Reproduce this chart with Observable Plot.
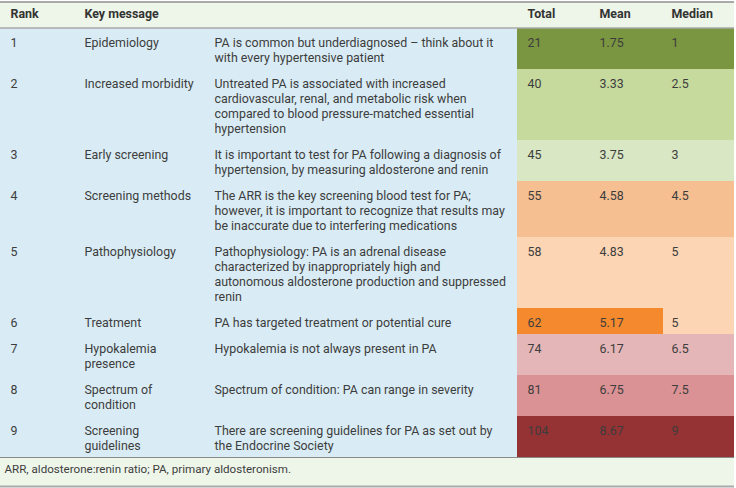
<!DOCTYPE html>
<html>
<head>
<meta charset="utf-8">
<script src="https://cdn.jsdelivr.net/npm/d3@7"></script>
<script src="https://cdn.jsdelivr.net/npm/@observablehq/plot@0.6"></script>
<style>
  html, body { margin: 0; padding: 0; background: #ffffff; }
  #chart svg { display: block; }
</style>
</head>
<body>
<div id="chart"></div>
<script>
// ---------- data ----------
const headers = ["Rank", "Key message", "", "Total", "Mean", "Median"];
const ranks = [1, 2, 3, 4, 5, 6, 7, 8, 9];
const keyMessages = [
  "Epidemiology",
  "Increased morbidity",
  "Early screening",
  "Screening methods",
  "Pathophysiology",
  "Treatment",
  "Hypokalemia\npresence",
  "Spectrum of\ncondition",
  "Screening\nguidelines"
];
const messages = [
  "PA is common but underdiagnosed \u2013 think about it\nwith every hypertensive patient",
  "Untreated PA is associated with increased\ncardiovascular, renal, and metabolic risk when\ncompared to blood pressure-matched essential\nhypertension",
  "It is important to test for PA following a diagnosis of\nhypertension, by measuring aldosterone and renin",
  "The ARR is the key screening blood test for PA;\nhowever, it is important to recognize that results may\nbe inaccurate due to interfering medications",
  "Pathophysiology: PA is an adrenal disease\ncharacterized by inappropriately high and\nautonomous aldosterone production and suppressed\nrenin",
  "PA has targeted treatment or potential cure",
  "Hypokalemia is not always present in PA",
  "Spectrum of condition: PA can range in severity",
  "There are screening guidelines for PA as set out by\nthe Endocrine Society"
];
const totals = [21, 40, 45, 55, 58, 62, 74, 81, 104];
const means = [1.75, 3.33, 3.75, 4.58, 4.83, 5.17, 6.17, 6.75, 8.67];
const medians = [1, 2.5, 3, 4.5, 5, 5, 6.5, 7.5, 9];
const footnote = "ARR, aldosterone:renin ratio; PA, primary aldosteronism.";

// ---------- styling / layout ----------
const palette = ["#7b9641", "#c6da9d", "#d9e7c4", "#f6bf92", "#fcd5b4",
                 "#f48a2d", "#e4b6b7", "#da9294", "#953233"];
const FONT = "Roboto, 'Liberation Sans', sans-serif";
const FS = 12.4;
const LH = 15;      // line height px
const PAD = 11;     // row padding px
const W = 736, H = 488;
const tableRight = 734;
const headerTop = 2, headerBottom = 28;
const textX = [10, 84, 214, 527, 599, 671];
const cellX = {colorStart: 517, meanStart: 590, medianStart: 663};

const nLines = s => s.split("\n").length;
const rows = ranks.map((r, i) => ({
  rank: r,
  key: keyMessages[i],
  msg: messages[i],
  total: totals[i],
  mean: means[i],
  median: medians[i],
  lines: Math.max(nLines(keyMessages[i]), nLines(messages[i]))
}));
let acc = headerBottom;
for (const r of rows) {
  r.top = acc;
  r.bottom = acc + PAD + LH * r.lines;
  acc = r.bottom;
}
const bodyBottom = acc;
const footerBottom = bodyBottom + 29;

// colour cells: Total & Mean by rank, Median by first rank sharing that median
const cells = [];
for (const r of rows) {
  const medKey = rows.find(d => d.median === r.median).rank;
  cells.push({x1: cellX.colorStart, x2: cellX.meanStart, y1: r.top, y2: r.bottom, k: r.rank});
  cells.push({x1: cellX.meanStart, x2: cellX.medianStart, y1: r.top, y2: r.bottom, k: r.rank});
  cells.push({x1: cellX.medianStart, x2: tableRight, y1: r.top, y2: r.bottom, k: medKey});
}

// text items
const bodyText = [];
for (const r of rows) {
  const vals = [String(r.rank), r.key, r.msg, String(r.total), r.mean.toFixed(2), String(r.median)];
  vals.forEach((v, j) => bodyText.push({x: textX[j], y: r.top + 8.3, t: v}));
}
const headText = headers.map((h, j) => ({x: textX[j], y: headerTop + 6.8, t: h})).filter(d => d.t);

const chart = Plot.plot({
  width: W,
  height: H,
  margin: 0,
  x: {domain: [0, W], range: [0, W], axis: null},
  y: {domain: [0, H], range: [0, H], axis: null},
  color: {type: "ordinal", domain: ranks, range: palette},
  style: {fontFamily: FONT, background: "#ffffff"},
  marks: [
    // header band
    Plot.rect([{x1: 0, x2: tableRight, y1: headerTop, y2: headerBottom}],
      {x1: "x1", x2: "x2", y1: "y1", y2: "y2", fill: "#eef5e9"}),
    // blue body
    Plot.rect([{x1: 0, x2: cellX.colorStart, y1: headerBottom, y2: bodyBottom}],
      {x1: "x1", x2: "x2", y1: "y1", y2: "y2", fill: "#d9ecf5"}),
    // coloured cells
    Plot.rect(cells, {x1: "x1", x2: "x2", y1: "y1", y2: "y2", fill: "k"}),
    // footer band
    Plot.rect([{x1: 0, x2: tableRight, y1: bodyBottom, y2: footerBottom}],
      {x1: "x1", x2: "x2", y1: "y1", y2: "y2", fill: "#eef6ea"}),
    // rules
    Plot.ruleY([headerTop - 0.5], {x1: 0, x2: tableRight, stroke: "#a9a9a9", strokeWidth: 2}),
    Plot.ruleY([headerBottom - 0.5], {x1: 0, x2: tableRight, stroke: "#a9a9a9", strokeWidth: 1.5}),
    Plot.ruleY([bodyBottom], {x1: 0, x2: tableRight, stroke: "#8a8a8a", strokeWidth: 1}),
    Plot.ruleY([footerBottom], {x1: 0, x2: tableRight, stroke: "#a9a9a9", strokeWidth: 2}),
    // header text
    Plot.text(headText, {x: "x", y: "y", text: "t", textAnchor: "start", lineAnchor: "top",
      fontSize: FS, fontWeight: "bold", fill: "#333333"}),
    // body text
    Plot.text(bodyText, {x: "x", y: "y", text: "t", textAnchor: "start", lineAnchor: "top",
      fontSize: FS, lineHeight: LH / FS, fill: "#3d3d3d"}),
    // footnote
    Plot.text([footnote], {x: () => 4, y: () => bodyBottom + 7, text: d => d, textAnchor: "start",
      lineAnchor: "top", fontSize: 11.6, fill: "#3d3d3d"})
  ]
});
document.getElementById("chart").appendChild(chart);
</script>
</body>
</html>
